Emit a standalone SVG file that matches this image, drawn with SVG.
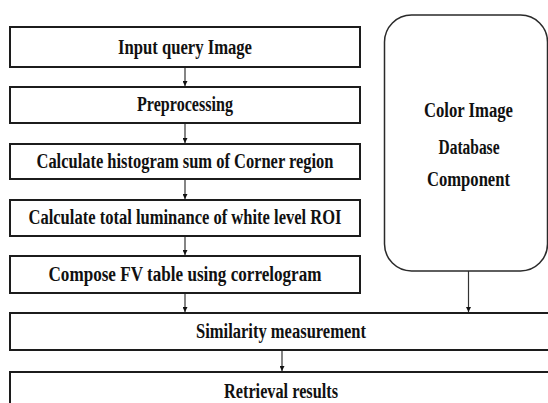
<svg xmlns="http://www.w3.org/2000/svg" width="548" height="403" viewBox="0 0 548 403">
  <style>
    .box { fill: #ffffff; stroke: #1c1c1c; stroke-width: 2; }
    .db { fill: #ffffff; stroke: #2a2a2a; stroke-width: 1.5; }
    .lbl { font-family: "Liberation Serif", "DejaVu Serif", serif; font-weight: bold; font-size: 20px; fill: #111111; text-anchor: middle; }
    .conn { stroke: #333333; stroke-width: 1.2; fill: none; marker-end: url(#arrow); }
  </style>
  <defs>
    <marker id="arrow" viewBox="0 0 8 8" refX="8" refY="4" markerWidth="5" markerHeight="5" markerUnits="userSpaceOnUse" orient="auto">
      <path d="M0,0 L8,4 L0,8 Z" fill="#111111"/>
    </marker>
  </defs>
  <rect width="548" height="403" fill="#ffffff"/>

  <g id="connectors">
    <line class="conn" x1="185" y1="68" x2="185" y2="86"/>
    <line class="conn" x1="185" y1="124" x2="185" y2="143"/>
    <line class="conn" x1="185" y1="180" x2="185" y2="199"/>
    <line class="conn" x1="185" y1="237" x2="185" y2="255"/>
    <line class="conn" x1="185" y1="294" x2="185" y2="312"/>
    <line class="conn" x1="468.5" y1="271" x2="468.5" y2="312"/>
    <line class="conn" x1="282" y1="351" x2="282" y2="371"/>
  </g>

  <g id="input-query">
    <rect class="box" x="10" y="27" width="350" height="40"/>
    <text class="lbl" x="185" y="54" textLength="134" lengthAdjust="spacingAndGlyphs">Input query Image</text>
  </g>
  <g id="preprocessing">
    <rect class="box" x="10" y="87" width="350" height="36"/>
    <text class="lbl" x="185" y="111" textLength="96" lengthAdjust="spacingAndGlyphs">Preprocessing</text>
  </g>
  <g id="histogram-sum">
    <rect class="box" x="10" y="144" width="350" height="35"/>
    <text class="lbl" x="185" y="168" textLength="297" lengthAdjust="spacingAndGlyphs">Calculate histogram sum of Corner region</text>
  </g>
  <g id="total-luminance">
    <rect class="box" x="10" y="200" width="350" height="36"/>
    <text class="lbl" x="185" y="224" textLength="313" lengthAdjust="spacingAndGlyphs">Calculate total luminance of white level ROI</text>
  </g>
  <g id="fv-table">
    <rect class="box" x="10" y="256" width="350" height="37"/>
    <text class="lbl" x="185" y="281" textLength="273" lengthAdjust="spacingAndGlyphs">Compose FV table using correlogram</text>
  </g>
  <g id="color-db">
    <rect class="db" x="384.5" y="15" width="163" height="256" rx="27" ry="27"/>
    <text class="lbl" x="468.5" y="117" textLength="89" lengthAdjust="spacingAndGlyphs">Color Image</text>
    <text class="lbl" x="469" y="154" textLength="61" lengthAdjust="spacingAndGlyphs">Database</text>
    <text class="lbl" x="468.5" y="186" textLength="83" lengthAdjust="spacingAndGlyphs">Component</text>
  </g>
  <g id="similarity">
    <rect class="box" x="10" y="313" width="545" height="37"/>
    <text class="lbl" x="281" y="338" textLength="170" lengthAdjust="spacingAndGlyphs">Similarity measurement</text>
  </g>
  <g id="retrieval">
    <rect class="box" x="10" y="372" width="545" height="40"/>
    <text class="lbl" x="281" y="398" textLength="114" lengthAdjust="spacingAndGlyphs">Retrieval results</text>
  </g>
</svg>
